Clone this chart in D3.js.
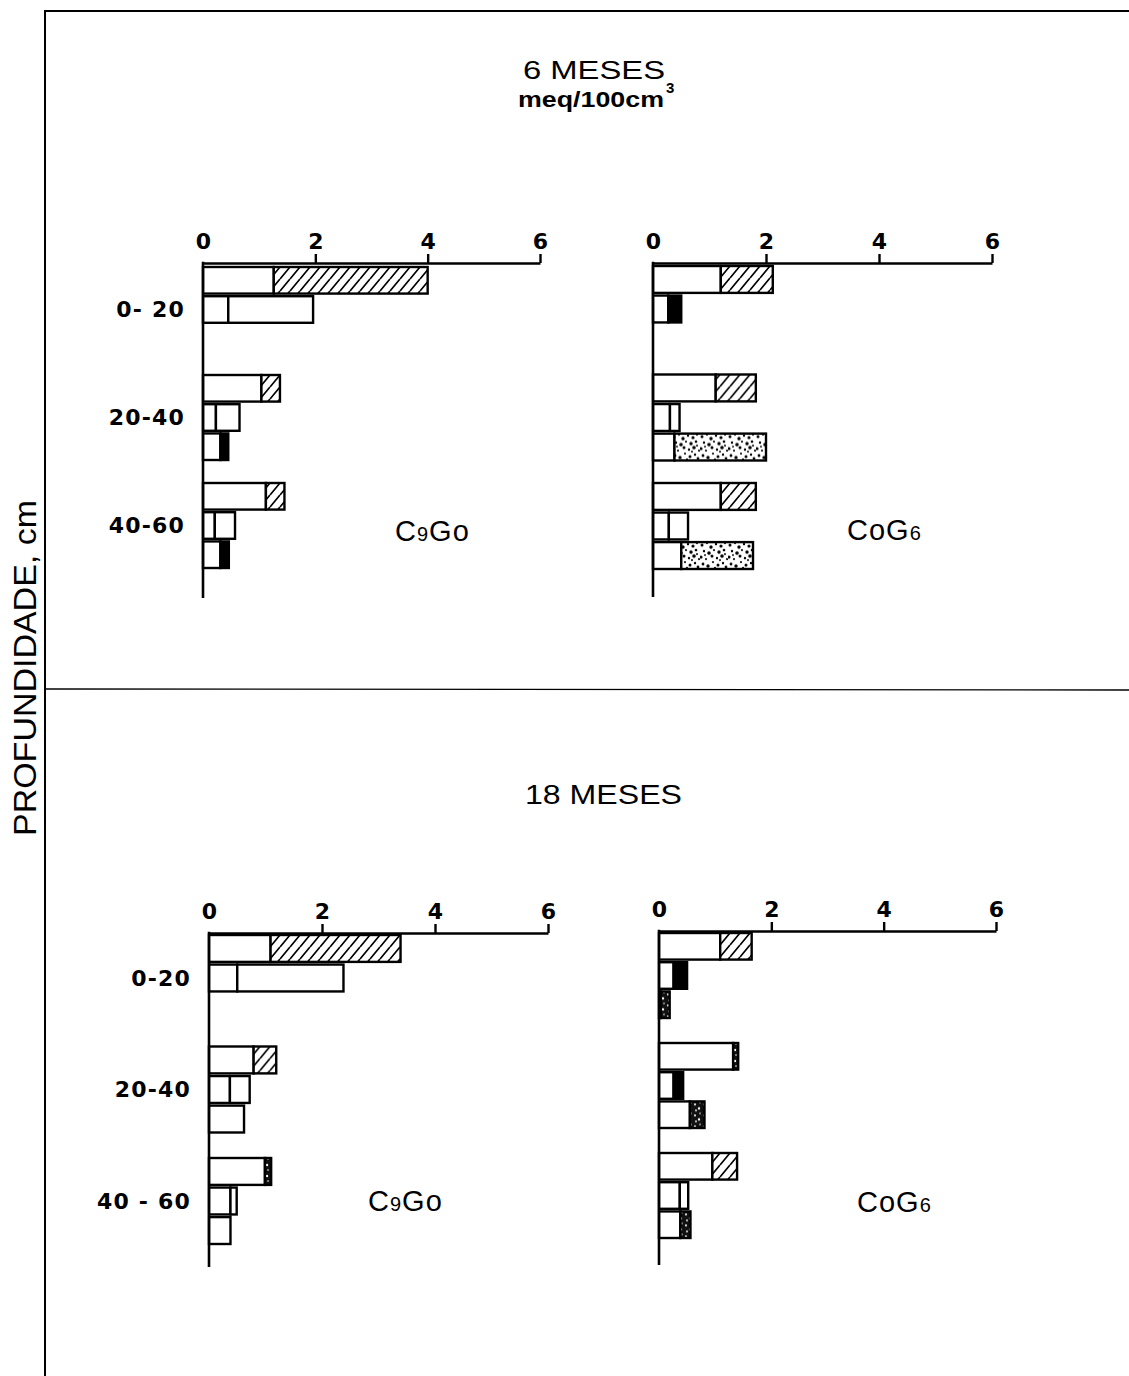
<!DOCTYPE html>
<html><head><meta charset="utf-8">
<script src="https://cdn.jsdelivr.net/npm/d3@7"></script>
<style>body{margin:0;background:#fff} svg{display:block}</style>
</head><body><svg id="chart" width="1129" height="1376"></svg>
<script>
// ---------- DATA ----------
const xTickValues = [0, 2, 4, 6];
const depthKeys = ["0-20", "20-40", "40-60"];
const depthLabelsTop = ["0- 20", "20-40", "40-60"];
const depthLabelsBottom = ["0-20", "20-40", "40 - 60"];
const titleTop = "6 MESES";
const unitTop = "meq/100cm";
const titleBottom = "18 MESES";
const yAxisTitle = "PROFUNDIDADE, cm";
// rows: [depth, bar index in group, end of first (white) segment, end of bar, fill of second segment]
const bars6mC9G0 = [
  ["0-20", 0, 1.26, 4.00, "hatch"],
  ["0-20", 1, 0.45, 1.96, "white"],
  ["20-40", 0, 1.04, 1.37, "hatch"],
  ["20-40", 1, 0.23, 0.65, "white"],
  ["20-40", 2, 0.31, 0.45, "black"],
  ["40-60", 0, 1.12, 1.45, "hatch"],
  ["40-60", 1, 0.21, 0.57, "white"],
  ["40-60", 2, 0.31, 0.46, "black"]
];
const bars6mC0G6 = [
  ["0-20", 0, 1.20, 2.12, "hatch"],
  ["0-20", 1, 0.27, 0.50, "black"],
  ["20-40", 0, 1.11, 1.82, "hatch"],
  ["20-40", 1, 0.30, 0.47, "white"],
  ["20-40", 2, 0.38, 2.00, "stipple"],
  ["40-60", 0, 1.20, 1.82, "hatch"],
  ["40-60", 1, 0.28, 0.62, "white"],
  ["40-60", 2, 0.50, 1.77, "stipple"]
];
const bars18mC9G0 = [
  ["0-20", 0, 1.09, 3.39, "hatch"],
  ["0-20", 1, 0.50, 2.38, "white"],
  ["20-40", 0, 0.79, 1.19, "hatch"],
  ["20-40", 1, 0.37, 0.72, "white"],
  ["20-40", 2, 0.62, 0.62, "none"],
  ["40-60", 0, 0.99, 1.10, "darkstipple"],
  ["40-60", 1, 0.38, 0.49, "white"],
  ["40-60", 2, 0.38, 0.38, "none"]
];
const bars18mC0G6 = [
  ["0-20", 0, 1.09, 1.65, "hatch"],
  ["0-20", 1, 0.26, 0.50, "black"],
  ["0-20", 2, 0.03, 0.19, "darkstipple"],
  ["20-40", 0, 1.32, 1.41, "darkstipple"],
  ["20-40", 1, 0.26, 0.43, "black"],
  ["20-40", 2, 0.55, 0.81, "darkstipple"],
  ["40-60", 0, 0.95, 1.39, "hatch"],
  ["40-60", 1, 0.37, 0.52, "white"],
  ["40-60", 2, 0.38, 0.56, "darkstipple"]
];
const panelNames = ["C9Go", "CoG6", "C9Go", "CoG6"];

// ---------- LAYOUT ----------
const W = 1129, H = 1376;
const panels = [
  {rows: bars6mC9G0,  name: panelNames[0], labels: depthLabelsTop,    x0: 203, x6: 540, axisY: 263, yEnd: 598,  start: 4, step: 108,   band: 85, nameX: 395, nameY: 541},
  {rows: bars6mC0G6,  name: panelNames[1], labels: null,              x0: 653, x6: 992, axisY: 263, yEnd: 597,  start: 3, step: 108.5, band: 86, nameX: 847, nameY: 540},
  {rows: bars18mC9G0, name: panelNames[2], labels: depthLabelsBottom, x0: 209, x6: 548, axisY: 933, yEnd: 1267, start: 2, step: 111.5, band: 86, nameX: 368, nameY: 1211},
  {rows: bars18mC0G6, name: panelNames[3], labels: null,              x0: 659, x6: 996, axisY: 931, yEnd: 1265, start: 2, step: 110,   band: 85, nameX: 857, nameY: 1212}
];

const svg = d3.select("#chart");
svg.append("rect").attr("width", W).attr("height", H).attr("fill", "#fff");
const defs = svg.append("defs");

// hatch
const hatch = defs.append("pattern").attr("id", "hatch").attr("patternUnits", "userSpaceOnUse")
  .attr("width", 10).attr("height", 12);
hatch.append("rect").attr("width", 10).attr("height", 12).attr("fill", "#fff");
hatch.append("path").attr("d", "M0,12 L10,0 M-10,12 L0,0 M10,12 L20,0")
  .attr("stroke", "#000").attr("stroke-width", 1.7).attr("fill", "none");

// light stipple (irregular dots)
const stippleDots = [[2,3,1.5],[7,1,1.1],[11,5,1.7],[16,2,1.2],[21,4,1.6],[25,1,1.1],[4,9,1.2],[9,11,1.8],[14,8,1.1],[19,10,1.7],[24,8,1.3],
  [1,15,1.6],[6,17,1.1],[12,14,1.5],[17,16,1.2],[22,14,1.8],[27,17,1.1],[3,22,1.4],[8,24,1.7],[13,20,1.1],[18,23,1.5],[23,21,1.2],[26,25,1.4],[10,27,1.1],
  [15,26,1.2],[20,18,1],[5,13,0.9],[25,12,1]];
const stip = defs.append("pattern").attr("id", "stipple").attr("patternUnits", "userSpaceOnUse")
  .attr("width", 28).attr("height", 28);
stip.append("rect").attr("width", 28).attr("height", 28).attr("fill", "#fff");
stip.selectAll("circle").data(stippleDots).join("circle")
  .attr("cx", d => d[0]).attr("cy", d => d[1]).attr("r", d => d[2]).attr("fill", "#000");

// dark stipple
const dstip = defs.append("pattern").attr("id", "darkstipple").attr("patternUnits", "userSpaceOnUse")
  .attr("width", 9).attr("height", 11);
dstip.append("rect").attr("width", 9).attr("height", 11).attr("fill", "#111");
dstip.selectAll("circle").data([[2,3,1.1],[6,7,1.2],[3,9,0.9],[7,1,0.8]]).join("circle")
  .attr("cx", d => d[0]).attr("cy", d => d[1]).attr("r", d => d[2]).attr("fill", "#fff");

const fillOf = f => f === "white" ? "#fff" : f === "black" ? "#000" : `url(#${f})`;

// frame
svg.append("path").attr("d", `M45,${H} V11 H${W}`).attr("fill", "none").attr("stroke", "#000").attr("stroke-width", 2);
svg.append("line").attr("x1", 45).attr("x2", W).attr("y1", 689).attr("y2", 690).attr("stroke", "#000").attr("stroke-width", 1.3);

// y axis title
svg.append("text").attr("transform", "translate(36,668) rotate(-90)")
  .attr("text-anchor", "middle").attr("font-family", "Liberation Sans, Arial, sans-serif")
  .attr("font-size", 31).attr("textLength", 336).attr("lengthAdjust", "spacingAndGlyphs")
  .text(yAxisTitle);

// titles
svg.append("text").attr("x", 523).attr("y", 79).attr("font-family", "Liberation Sans, Arial, sans-serif")
  .attr("font-size", 26).attr("textLength", 142).attr("lengthAdjust", "spacingAndGlyphs").text(titleTop);
const unit = svg.append("text").attr("x", 518).attr("y", 107).attr("font-family", "Liberation Sans, Arial, sans-serif")
  .attr("font-weight", "bold").attr("font-size", 22);
unit.append("tspan").attr("textLength", 146).attr("lengthAdjust", "spacingAndGlyphs").text(unitTop);
svg.append("text").attr("x", 666).attr("y", 93).attr("font-family", "Liberation Sans, Arial, sans-serif")
  .attr("font-weight", "bold").attr("font-size", 15).text("3");
svg.append("text").attr("x", 525).attr("y", 804).attr("font-family", "Liberation Sans, Arial, sans-serif")
  .attr("font-size", 27).attr("textLength", 157).attr("lengthAdjust", "spacingAndGlyphs").text(titleBottom);

// panels
panels.forEach(p => {
  const g = svg.append("g");
  const x = d3.scaleLinear().domain([0, 6]).range([p.x0, p.x6]);
  const pad = 1 - p.band / p.step;
  const yOuter = d3.scaleBand().domain(depthKeys)
    .range([p.axisY + p.start, p.axisY + p.start + 2 * p.step + p.band]).paddingInner(pad).paddingOuter(0);
  const yInner = d3.scaleBand().domain([0, 1, 2]).range([0, yOuter.bandwidth()]).paddingInner(0.09);

  // bars
  const rows = g.append("g").selectAll("g").data(p.rows).join("g")
    .attr("transform", d => `translate(0,${yOuter(d[0]) + yInner(d[1])})`);
  rows.append("rect")
    .attr("x", x(0)).attr("width", d => x(d[2]) - x(0)).attr("height", yInner.bandwidth())
    .attr("fill", "#fff").attr("stroke", "#000").attr("stroke-width", 2.4);
  rows.filter(d => d[4] !== "none").append("rect")
    .attr("x", d => x(d[2])).attr("width", d => x(d[3]) - x(d[2])).attr("height", yInner.bandwidth())
    .attr("fill", d => fillOf(d[4])).attr("stroke", "#000").attr("stroke-width", 2.4);

  // top axis
  const axis = d3.axisTop(x).tickValues(xTickValues).tickSizeInner(9).tickSizeOuter(0).tickFormat(d3.format("d"));
  const ag = g.append("g").attr("transform", `translate(0,${p.axisY})`).call(axis);
  ag.select(".domain").attr("stroke", "#000").attr("stroke-width", 2.6);
  ag.selectAll(".tick line").attr("stroke", "#000").attr("stroke-width", 2.4)
    .attr("display", d => d === 0 ? "none" : null);
  ag.selectAll(".tick text").attr("y", -14).attr("fill", "#000")
    .attr("font-family", "DejaVu Sans, sans-serif").attr("font-weight", "bold").attr("font-size", 22);

  // vertical axis
  g.append("line").attr("x1", x(0)).attr("x2", x(0)).attr("y1", p.axisY - 1.3).attr("y2", p.yEnd)
    .attr("stroke", "#000").attr("stroke-width", 2.6);

  // depth labels
  if (p.labels) {
    g.append("g").selectAll("text").data(depthKeys).join("text")
      .attr("x", x(0) - 18).attr("y", d => yOuter(d) + yOuter.bandwidth() / 2).attr("dy", "0.36em")
      .attr("text-anchor", "end").attr("font-family", "DejaVu Sans, sans-serif").attr("font-weight", "bold")
      .attr("font-size", 22).attr("letter-spacing", 1.2)
      .text((d, i) => p.labels[i]);
  }

  // panel name
  const nt = g.append("text").attr("x", p.nameX).attr("y", p.nameY)
    .attr("font-family", "Liberation Sans, Arial, sans-serif").attr("font-size", 29).attr("letter-spacing", 1);
  nt.selectAll("tspan").data(p.name.split("")).join("tspan")
    .attr("font-size", c => /[0-9]/.test(c) ? 20 : 29).text(c => c);
});
</script></body></html>
